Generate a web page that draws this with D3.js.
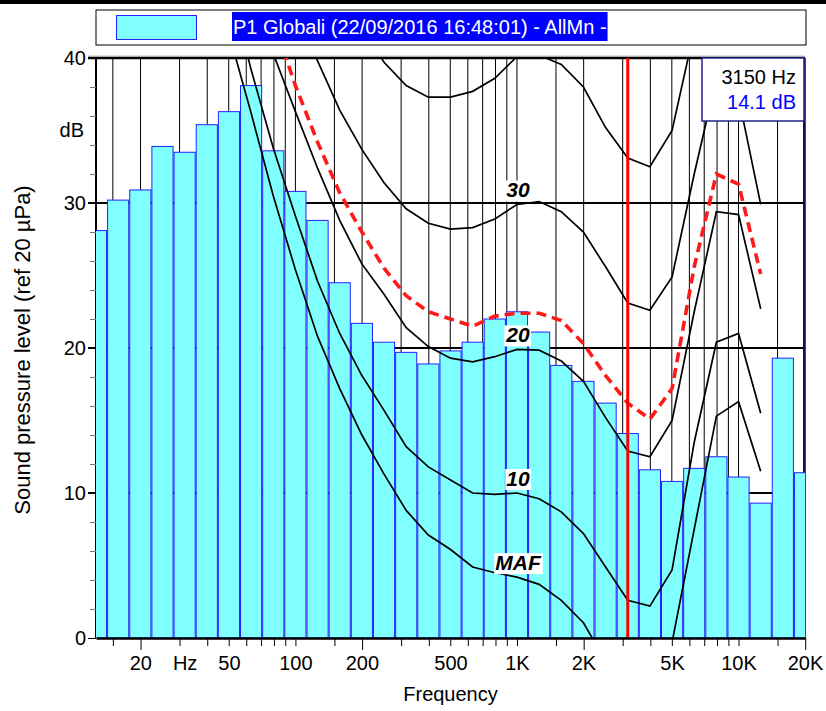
<!DOCTYPE html>
<html>
<head>
<meta charset="utf-8">
<script src="https://cdn.jsdelivr.net/npm/d3@7"></script>
<style>
  body { margin: 0; background: #fff; }
  text { font-family: "Liberation Sans", Arial, sans-serif; }
</style>
</head>
<body>
<div id="chart"></div>
<script>
// 1/3 octave bands (nominal Hz) and measured levels (dB)
const bands = [12.5, 16, 20, 25, 31.5, 40, 50, 63, 80, 100, 125, 160, 200, 250, 315, 400, 500, 630, 800,
  1000, 1250, 1600, 2000, 2500, 3150, 4000, 5000, 6300, 8000, 10000, 12500, 16000, 20000];
const levels = [28.1, 30.2, 30.9, 33.9, 33.5, 35.4, 36.3, 38.1, 33.6, 30.8, 28.8, 24.5, 21.7, 20.4, 19.7, 18.9,
  19.8, 20.4, 22.0, 22.5, 21.1, 18.8, 17.7, 16.2, 14.1, 11.6, 10.8, 11.7, 12.5, 11.1, 9.3, 19.3, 11.4];

// contours, every list ends at 12.5 kHz
const maf = [41.7, 36.2, 30.5, 25.4, 20.8, 17.2, 14.0, 11.3, 8.8, 7.1, 6.1, 4.9, 4.5, 4.2, 3.7, 2.6, 1.05,
  -1.6, -3.5, -4.5, -0.3, 7.5, 15.3, 16.3, 11.5];
const phon10 = [45.3, 39.2, 33.8, 29.1, 24.6, 21.0, 18.1, 15.7, 13.2, 11.8, 10.9, 10.0, 9.9, 10.0, 9.6, 8.7,
  7.2, 4.9, 2.6, 2.2, 4.7, 13.5, 20.4, 21.0, 15.5];
const phon20 = [45, 40.3, 36.3, 32.4, 28.8, 25.8, 23.7, 21.4, 20.1, 19.3, 19.05, 19.4, 19.9, 19.85, 19.1, 17.7,
  15.2, 12.9, 12.5, 15.0, 22.5, 29.4, 29.2, 22.7];
const phon30 = [43.8, 39.8, 36.4, 33.7, 31.4, 29.6, 28.6, 28.2, 28.3, 28.9, 29.9, 30.1, 29.4, 28.0, 25.6, 23.1,
  22.6, 24.9, 32.0, 38.6, 37.3, 29.9];
const phon40 = [42.2, 39.7, 38.1, 37.3, 37.3, 37.7, 38.6, 40.1, 40.2, 39.55, 38.0, 35.2, 33.1, 32.5, 35.0, 41.9,
  48, 47, 39];
const dashedCurve = [42.6, 38.1, 34.2, 30.7, 28.0, 25.5, 23.6, 22.5, 22.0, 21.5, 22.2, 22.4, 22.4, 21.9, 20.3,
  18.1, 16.2, 15.1, 17.2, 25.6, 32.0, 31.3, 25.1];

const gridFreqs = [15, 20, 30, 40, 50, 60, 70, 80, 90, 100, 150, 200, 300, 400, 500, 600, 700, 800, 900,
  1000, 1500, 2000, 3000, 4000, 5000, 6000, 7000, 8000, 9000, 10000, 15000, 20000];
const longTicks = [20, 200, 2000, 20000];
const tickLabelFreqs = [20, 31.5, 50, 100, 200, 500, 1000, 2000, 5000, 10000, 20000];
const tickLabels = ["20", "Hz", "50", "100", "200", "500", "1K", "2K", "5K", "10K", "20K"];
const yTicks = [0, 10, 20, 30, 40];
const yMinor = [2, 4, 6, 8, 12, 14, 16, 18, 22, 24, 26, 28, 32, 34, 36, 38];
const cursorFreq = 3150;
const cursorLevel = 14.1;
const legendText = "P1 Globali (22/09/2016 16:48:01) - AllMn -";

const width = 826;
const height = 711;
const plot = ({top: 58, right: 805, bottom: 638, left: 96});

// exact band centre of a nominal 1/3 octave frequency
const centre = f => Math.pow(10, Math.round(10 * Math.log10(f)) / 10);

const x = d3.scaleLog()
  .domain([Math.pow(10, 1.1), Math.pow(10, 4.3)])
  .range([plot.left, plot.right]);
const y = d3.scaleLinear()
  .domain([0, 40])
  .range([plot.bottom, plot.top]);

const svg = d3.select("#chart").append("svg")
  .attr("width", width)
  .attr("height", height);

svg.append("rect").attr("width", width).attr("height", height).attr("fill", "#fff");
svg.append("rect").attr("width", width).attr("height", 4).attr("fill", "#000");

svg.append("clipPath").attr("id", "plotclip")
  .append("rect")
  .attr("x", plot.left).attr("y", plot.top)
  .attr("width", plot.right - plot.left).attr("height", plot.bottom - plot.top);

// vertical grid
svg.append("g")
  .selectAll("line")
  .data(gridFreqs)
  .join("line")
  .attr("x1", d => x(d)).attr("x2", d => x(d))
  .attr("y1", plot.top).attr("y2", plot.bottom)
  .attr("stroke", "#000").attr("stroke-width", 1);

// horizontal grid
svg.append("g")
  .selectAll("line")
  .data([10, 20, 30])
  .join("line")
  .attr("x1", plot.left - 8).attr("x2", plot.right)
  .attr("y1", d => y(d)).attr("y2", d => y(d))
  .attr("stroke", "#000").attr("stroke-width", 2);

// frame
svg.append("line")
  .attr("x1", plot.left).attr("x2", plot.left)
  .attr("y1", plot.top).attr("y2", plot.bottom)
  .attr("stroke", "#000").attr("stroke-width", 2);
svg.append("line")
  .attr("x1", plot.right - 1).attr("x2", plot.right - 1)
  .attr("y1", plot.top).attr("y2", plot.bottom)
  .attr("stroke", "#10105a").attr("stroke-width", 2);
svg.append("line")
  .attr("x1", plot.left - 8).attr("x2", plot.right)
  .attr("y1", plot.top - 2).attr("y2", plot.top - 2)
  .attr("stroke", "#c8c8c8").attr("stroke-width", 1);
svg.append("line")
  .attr("x1", plot.left - 8).attr("x2", plot.right)
  .attr("y1", y(40)).attr("y2", y(40))
  .attr("stroke", "#000").attr("stroke-width", 2.5);

// bars
const half = Math.pow(10, 0.05);
svg.append("g")
  .attr("clip-path", "url(#plotclip)")
  .selectAll("rect")
  .data(bands.map((f, i) => ({f: centre(f), v: levels[i]})))
  .join("rect")
  .attr("x", d => x(d.f / half) + 0.5)
  .attr("width", d => x(d.f * half) - x(d.f / half) - 1)
  .attr("y", d => y(d.v))
  .attr("height", d => y(0) - y(d.v))
  .attr("fill", "#80ffff")
  .attr("stroke", "#2222ff")
  .attr("stroke-width", 1);

// contours
const end = bands.indexOf(12500);
function pairs(values) {
  const fs = bands.slice(end - values.length + 1, end + 1);
  return values.map((v, i) => ({f: centre(fs[i]), v: v}));
}
const line = d3.line()
  .x(d => x(d.f))
  .y(d => y(d.v));

const curves = svg.append("g").attr("clip-path", "url(#plotclip)");
[maf, phon10, phon20, phon30, phon40].forEach(c => {
  curves.append("path")
    .attr("d", line(pairs(c)))
    .attr("fill", "none")
    .attr("stroke", "#000")
    .attr("stroke-width", 1.7);
});
curves.append("path")
  .attr("d", line(pairs(dashedCurve)))
  .attr("fill", "none")
  .attr("stroke", "#ff1a1a")
  .attr("stroke-width", 3.6)
  .attr("stroke-dasharray", "10,6");

// contour labels at 1 kHz
const labelled = [["MAF", maf], ["10", phon10], ["20", phon20], ["30", phon30]];
labelled.forEach(([name, c]) => {
  const at1k = pairs(c).find(d => Math.round(d.f) === 1000);
  const g = svg.append("g");
  const bg = g.append("rect").attr("fill", "#fff");
  const t = g.append("text")
    .attr("x", x(1000) + 1)
    .attr("y", y(at1k.v) - 7)
    .attr("text-anchor", "middle")
    .attr("font-size", "21px")
    .attr("font-weight", "bold")
    .attr("font-style", "italic")
    .attr("fill", "#000")
    .text(name);
  const b = t.node().getBBox();
  bg.attr("x", b.x - 1).attr("y", b.y + 2)
    .attr("width", b.width + 2).attr("height", b.height - 2);
});

// cursor
svg.append("line")
  .attr("x1", x(centre(cursorFreq))).attr("x2", x(centre(cursorFreq)))
  .attr("y1", plot.top).attr("y2", plot.bottom)
  .attr("stroke", "#f00").attr("stroke-width", 3);

// cursor readout
svg.append("rect")
  .attr("x", 702).attr("y", plot.top)
  .attr("width", plot.right - 702 - 1).attr("height", 63)
  .attr("fill", "#fff").attr("stroke", "#22228a").attr("stroke-width", 1.5);
svg.append("text")
  .attr("x", 796).attr("y", 84)
  .attr("text-anchor", "end").attr("font-size", "20px").attr("fill", "#000")
  .text(`${cursorFreq} Hz`);
svg.append("text")
  .attr("x", 796).attr("y", 109)
  .attr("text-anchor", "end").attr("font-size", "20px").attr("fill", "#0000ff")
  .text(`${cursorLevel} dB`);

// x axis
const xAxis = svg.append("g")
  .attr("transform", `translate(0,${y(0)})`)
  .call(d3.axisBottom(x)
    .tickValues(gridFreqs.filter(d => !longTicks.includes(d)))
    .tickSize(8)
    .tickSizeOuter(0)
    .tickFormat(""));
xAxis.select(".domain").attr("stroke-width", 2.5);
svg.append("g")
  .attr("transform", `translate(0,${y(0)})`)
  .call(d3.axisBottom(x)
    .tickValues(longTicks)
    .tickSize(12)
    .tickSizeOuter(0)
    .tickFormat(""))
  .select(".domain").remove();
svg.append("g")
  .attr("transform", `translate(0,${y(0)})`)
  .call(d3.axisBottom(x)
    .tickValues(tickLabelFreqs.map(centre))
    .tickSize(0)
    .tickPadding(18)
    .tickFormat((d, i) => tickLabels[i]))
  .call(g => g.select(".domain").remove())
  .selectAll("text")
  .attr("font-size", "20px")
  .attr("font-family", "Liberation Sans, Arial, sans-serif")
  .attr("fill", "#000");

// y axis
svg.append("g")
  .attr("transform", `translate(${plot.left},0)`)
  .call(d3.axisLeft(y)
    .tickValues(yMinor)
    .tickSize(6)
    .tickSizeOuter(0)
    .tickFormat(""))
  .call(g => g.select(".domain").remove())
  .selectAll("line").attr("stroke", "#777");
svg.append("g")
  .attr("transform", `translate(${plot.left},0)`)
  .call(d3.axisLeft(y)
    .tickValues(yTicks)
    .tickSize(8)
    .tickPadding(2)
    .tickSizeOuter(0))
  .call(g => g.select(".domain").remove())
  .selectAll("text")
  .attr("font-size", "20px")
  .attr("font-family", "Liberation Sans, Arial, sans-serif")
  .attr("fill", "#000");

svg.append("text")
  .attr("x", 84).attr("y", 137)
  .attr("text-anchor", "end").attr("font-size", "20px")
  .text("dB");

svg.append("text")
  .attr("x", (plot.left + plot.right) / 2).attr("y", 701)
  .attr("text-anchor", "middle").attr("font-size", "20px")
  .text("Frequency");

svg.append("text")
  .attr("transform", `translate(30,${(plot.top + plot.bottom) / 2 + 2}) rotate(-90)`)
  .attr("text-anchor", "middle").attr("font-size", "22px")
  .text("Sound pressure level (ref 20 µPa)");

// legend
svg.append("rect")
  .attr("x", plot.left).attr("y", 10)
  .attr("width", plot.right - plot.left + 1).attr("height", 35)
  .attr("fill", "#fff").attr("stroke", "#000").attr("stroke-width", 1);
svg.append("rect")
  .attr("x", 116.5).attr("y", 15.5)
  .attr("width", 80).attr("height", 24)
  .attr("fill", "#80ffff").attr("stroke", "#2222ff").attr("stroke-width", 1);
const legendBg = svg.append("rect").attr("fill", "#0000ff");
const lt = svg.append("text")
  .attr("x", 233).attr("y", 34)
  .attr("font-size", "20px").attr("fill", "#fff")
  .text(legendText);
const lb = lt.node().getBBox();
legendBg
  .attr("x", lb.x - 1).attr("y", 12)
  .attr("width", lb.width + 2).attr("height", 29);
</script>
</body>
</html>
